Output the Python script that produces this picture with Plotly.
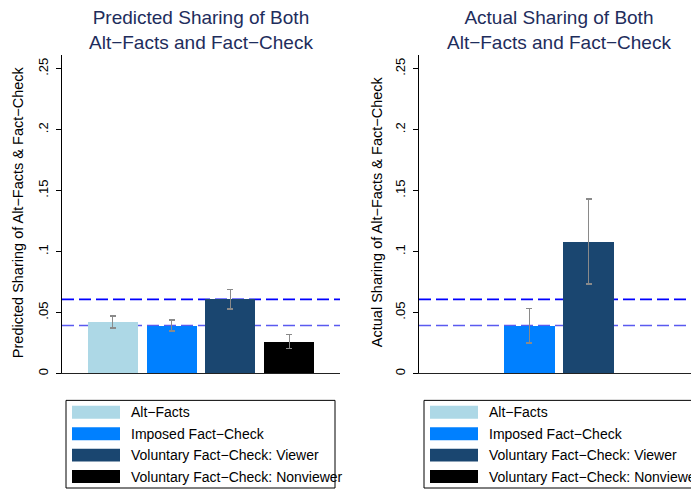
import plotly.graph_objects as go

# ---------------- data ----------------
categories = ["Alt\u2212Facts", "Imposed Fact\u2212Check",
              "Voluntary Fact\u2212Check: Viewer", "Voluntary Fact\u2212Check: Nonviewer"]
bar_colors = ["#add8e6", "#0080ff", "#1a4670", "#000000"]
positions = [1, 2, 3, 4]

predicted = [0.0426, 0.0393, 0.0610, 0.0263]
predicted_hi = [0.0470, 0.0437, 0.0687, 0.0318]
predicted_lo = [0.0374, 0.0348, 0.0527, 0.0204]

actual = [None, 0.0393, 0.1083, None]
actual_hi = [None, 0.0532, 0.1433, None]
actual_lo = [None, 0.0252, 0.0733, None]

ref_lines = [0.0608, 0.0393]
ref_colors = ["#0000ff", "#5a5af0"]

tick_vals = [0, 0.05, 0.10, 0.15, 0.20, 0.25]
tick_text = ["0", ".05", ".1", ".15", ".2", ".25"]

titles = ["Predicted Sharing of Both<br>Alt\u2212Facts and Fact\u2212Check",
          "Actual Sharing of Both<br>Alt\u2212Facts and Fact\u2212Check"]
ytitles = ["Predicted Sharing of Alt\u2212Facts & Fact\u2212Check",
           "Actual Sharing of Alt\u2212Facts & Fact\u2212Check"]

# ---------------- layout geometry ----------------
OFF = 8  # page body margin
W, H = 699 - OFF, 491 - OFF
FONT = "Liberation Sans, Arial, Helvetica, sans-serif"


def px_x(p):
    return (p - OFF) / W


def px_y(p):
    return 1 - (p - OFF) / H


panels = [
    dict(xdom=(62, 340), legend=(66, 335), ytitle_x=18),
    dict(xdom=(419, 699), legend=(424, 693), ytitle_x=377),
]
y_bottom, y_top = 375, 55

fig = go.Figure()


def err(vals, hi, lo):
    plus, minus = [], []
    for v, h, l in zip(vals, hi, lo):
        if v is None:
            plus.append(None)
            minus.append(None)
        else:
            plus.append(h - v)
            minus.append(v - l)
    return plus, minus


series = [(predicted, predicted_hi, predicted_lo), (actual, actual_hi, actual_lo)]
shapes = []
annotations = []

for i, (vals, hi, lo) in enumerate(series):
    xa = "x" if i == 0 else "x2"
    ya = "y" if i == 0 else "y2"
    plus, minus = err(vals, hi, lo)
    fig.add_trace(go.Bar(
        x=positions, y=vals, xaxis=xa, yaxis=ya,
        marker=dict(color=bar_colors, line=dict(width=0)),
        width=0.85,
        error_y=dict(type="data", array=plus, arrayminus=minus, symmetric=False,
                     color="#8a8a8a", thickness=1.5, width=3),
        showlegend=False, hoverinfo="skip",
    ))
    # reference dashed lines
    for rv, rc in zip(ref_lines, ref_colors):
        shapes.append(dict(type="line", xref=f"{xa} domain", yref=ya,
                           x0=0, x1=1, y0=rv, y1=rv, layer="below",
                           line=dict(color=rc, width=1.6, dash="12px,5px")))
    p = panels[i]
    xc = (p["xdom"][0] + p["xdom"][1]) / 2
    annotations.append(dict(text=titles[i], xref="paper", yref="paper",
                            x=px_x(xc), y=px_y(30), showarrow=False,
                            xanchor="center", yanchor="middle",
                            font=dict(size=19, color="#1e2d5c", family=FONT)))
    annotations.append(dict(text=ytitles[i], xref="paper", yref="paper",
                            x=px_x(p["ytitle_x"]), y=px_y(213), showarrow=False,
                            textangle=-90, xanchor="center", yanchor="middle",
                            font=dict(size=14.5, color="#000000", family=FONT)))
    # legend box
    lx0, lx1 = p["legend"]
    shapes.append(dict(type="rect", xref="paper", yref="paper",
                       x0=px_x(lx0), x1=px_x(lx1), y0=px_y(490), y1=px_y(402),
                       line=dict(color="#000000", width=1), fillcolor="rgba(0,0,0,0)"))
    row_c = [414, 435.5, 457, 478.5]
    for cat, col, rc in zip(categories, bar_colors, row_c):
        shapes.append(dict(type="rect", xref="paper", yref="paper",
                           x0=px_x(lx0 + 6), x1=px_x(lx0 + 54),
                           y0=px_y(rc + 6.5), y1=px_y(rc - 6.5),
                           line=dict(width=0), fillcolor=col))
        annotations.append(dict(text=cat, xref="paper", yref="paper",
                                x=px_x(lx0 + 63), y=px_y(rc), showarrow=False,
                                xanchor="left", yanchor="middle",
                                font=dict(size=14, color="#000000", family=FONT)))

xrange = [0.14, 4.86]
yrange = [0, 0.2614]

common_x = dict(range=xrange, showticklabels=False, ticks="", showgrid=False,
                zeroline=False, showline=True, linecolor="#222222", linewidth=1,
                fixedrange=True)
common_y = dict(range=yrange, tickvals=tick_vals, ticktext=tick_text, tickangle=-90,
                ticks="outside", ticklen=5, tickcolor="#000000", showgrid=False,
                zeroline=False, showline=True, linecolor="#000000", linewidth=1,
                ticklabelstandoff=3,
                tickfont=dict(size=13, color="#000000", family=FONT))

fig.update_layout(
    width=W, height=H,
    margin=dict(l=0, r=0, t=0, b=0),
    paper_bgcolor="white", plot_bgcolor="white",
    font=dict(family=FONT),
    xaxis=dict(domain=[px_x(62), px_x(340)], anchor="y", **common_x),
    yaxis=dict(domain=[px_y(y_bottom), px_y(y_top)], anchor="x", **common_y),
    xaxis2=dict(domain=[px_x(419), min(1.0, px_x(699))], anchor="y2", **common_x),
    yaxis2=dict(domain=[px_y(y_bottom), px_y(y_top)], anchor="x2", **common_y),
    shapes=shapes,
    annotations=annotations,
    bargap=0,
)

fig.write_html("out.html")
